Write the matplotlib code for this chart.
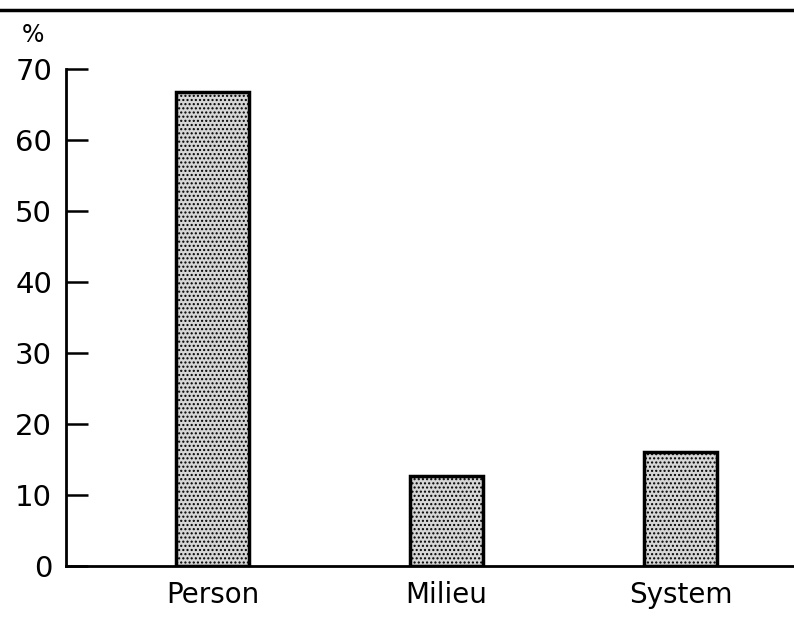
import matplotlib
matplotlib.use("Agg")
import matplotlib.pyplot as plt
from matplotlib.lines import Line2D

categories = ["Person", "Milieu", "System"]
values = [66.7, 12.7, 16.1]
yticks = [0, 10, 20, 30, 40, 50, 60, 70]

plt.rcParams['font.family'] = ['DejaVu Sans']
plt.rcParams['hatch.color'] = '#888888'
fig = plt.figure(figsize=(7.94, 6.26), dpi=100)
ax = fig.add_axes([0.0831, 0.0958, 0.9169, 0.794])

x = list(range(len(categories)))
ax.bar(x, values, width=0.31, facecolor='#d6d6d6', edgecolor='black', linewidth=2.5,
       hatch='....', zorder=3)

ax.set_xlim(-0.627, 2.485)
ax.set_ylim(0, 70)
ax.set_yticks(yticks)
ax.set_yticklabels([str(t) for t in yticks], fontsize=21)
ax.set_xticks(x)
ax.set_xticklabels(categories, fontsize=20)
ax.tick_params(axis='y', direction='in', length=16, width=1.8, pad=10)
ax.tick_params(axis='x', length=0, pad=11)
for s in ['top', 'right']:
    ax.spines[s].set_visible(False)
ax.spines['left'].set_linewidth(2)
ax.spines['bottom'].set_linewidth(2)

fig.text(0.042, 0.944, "%", fontsize=17, ha='center', va='center')
fig.add_artist(Line2D([0, 1], [0.984, 0.984], color='black', linewidth=2.5, transform=fig.transFigure))

fig.savefig("out.png", dpi=100)
